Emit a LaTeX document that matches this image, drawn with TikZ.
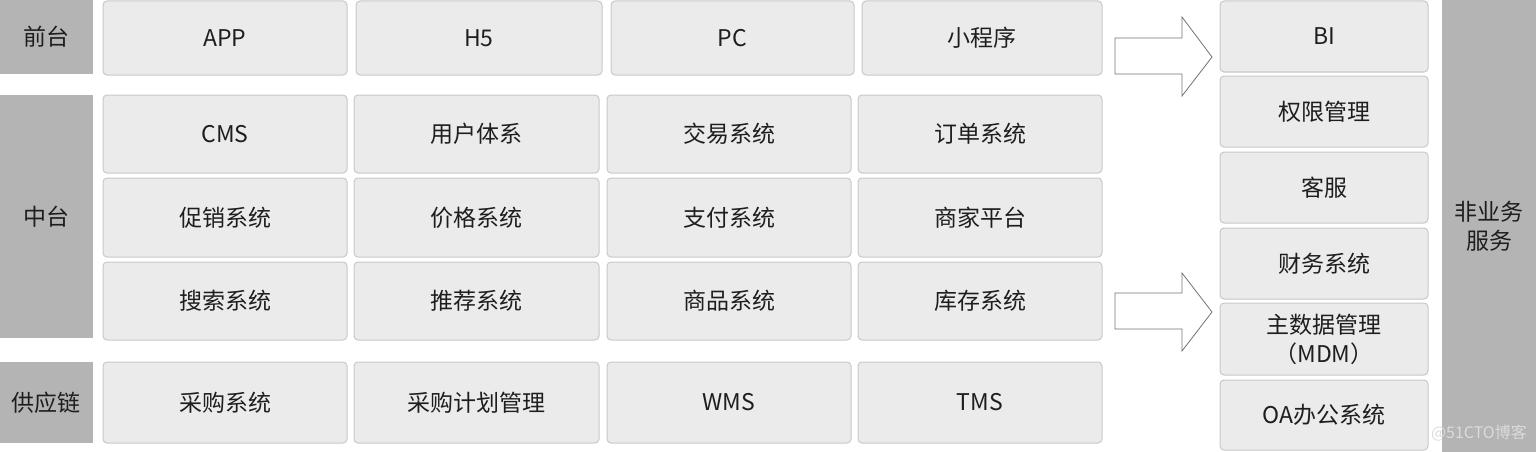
\documentclass[tikz,border=0pt]{standalone}
\usepackage{fontspec}
\setmainfont{Noto Sans CJK SC}
\definecolor{boxfill}{HTML}{EBEBEB}
\definecolor{boxline}{HTML}{C8C8C8}
\definecolor{labfill}{HTML}{B4B4B4}
\definecolor{txt}{HTML}{1E1E1E}
\begin{document}
\begin{tikzpicture}[x=1pt,y=-1pt,
  box/.style={draw=boxline, fill=boxfill, line width=1pt, rounded corners=4pt, inner sep=0pt,
    text=txt, font=\fontsize{23}{29}\selectfont, align=center},
  lab/.style={fill=labfill, inner sep=0pt, text=txt, font=\fontsize{23}{29}\selectfont, align=center},
  barrow/.style={draw=black!55, fill=white, line width=0.8pt}]
\useasboundingbox (0,0) rectangle (1536,452);
% left labels
\node[lab, minimum width=93pt, minimum height=74pt] (qt) at (46.5,37) {前台};
\node[lab, minimum width=93pt, minimum height=243pt] (zt) at (46.5,216.5) {中台};
\node[lab, minimum width=93pt, minimum height=81pt] (gyl) at (46.5,402.5) {供应链};
% top row
\node[box, minimum width=244pt, minimum height=74pt] (app) at (225,38) {APP};
\node[box, minimum width=246pt, minimum height=74pt] (h5) at (479,38) {H5};
\node[box, minimum width=243pt, minimum height=74pt] (pc) at (732.5,38) {PC};
\node[box, minimum width=240pt, minimum height=74pt] (mini) at (982,38) {小程序};
% middle rows
\node[box, minimum width=244pt, minimum height=78pt] (cms) at (225,134) {CMS};
\node[box, minimum width=245pt, minimum height=78pt] (yhtx) at (476.5,134) {用户体系};
\node[box, minimum width=244pt, minimum height=78pt] (jyxt) at (729,134) {交易系统};
\node[box, minimum width=244pt, minimum height=78pt] (ddxt) at (980,134) {订单系统};
\node[box, minimum width=244pt, minimum height=79pt] (cxxt) at (225,217.5) {促销系统};
\node[box, minimum width=245pt, minimum height=79pt] (jgxt) at (476.5,217.5) {价格系统};
\node[box, minimum width=244pt, minimum height=79pt] (zfxt) at (729,217.5) {支付系统};
\node[box, minimum width=244pt, minimum height=79pt] (sjpt) at (980,217.5) {商家平台};
\node[box, minimum width=244pt, minimum height=78pt] (ssxt) at (225,301) {搜索系统};
\node[box, minimum width=245pt, minimum height=78pt] (tjxt) at (476.5,301) {推荐系统};
\node[box, minimum width=244pt, minimum height=78pt] (spxt) at (729,301) {商品系统};
\node[box, minimum width=244pt, minimum height=78pt] (kcxt) at (980,301) {库存系统};
% supply chain row
\node[box, minimum width=244pt, minimum height=81pt] (cgxt) at (225,402.5) {采购系统};
\node[box, minimum width=245pt, minimum height=81pt] (cgjh) at (476.5,402.5) {采购计划管理};
\node[box, minimum width=244pt, minimum height=81pt] (wms) at (729,402.5) {WMS};
\node[box, minimum width=244pt, minimum height=81pt] (tms) at (980,402.5) {TMS};
% right column
\node[box, minimum width=208pt, minimum height=71pt] (bi) at (1324,36.5) {BI};
\node[box, minimum width=208pt, minimum height=71pt] (qxgl) at (1324,111.5) {权限管理};
\node[box, minimum width=208pt, minimum height=71pt] (kf) at (1324,187.5) {客服};
\node[box, minimum width=208pt, minimum height=71pt] (cwxt) at (1324,263.5) {财务系统};
\node[box, minimum width=208pt, minimum height=72pt] (mdm) at (1324,339) {主数据管理\\（MDM）};
\node[box, minimum width=208pt, minimum height=70pt] (oa) at (1324,415) {OA办公系统};
\node[lab, minimum width=94pt, minimum height=452pt] (fyw) at (1489,226) {非业务\\服务};
% block arrows
\draw[barrow] (1115,38) -- (1182,38) -- (1182,17) -- (1212,57) -- (1182,96) -- (1182,74) -- (1115,74) -- cycle;
\draw[barrow] (1115,293) -- (1182,293) -- (1182,273) -- (1212,312) -- (1182,351) -- (1182,329) -- (1115,329) -- cycle;
% watermark
\node[text=white!72!gray, font=\fontsize{16}{18}\selectfont, anchor=east, inner sep=0pt] (wm) at (1527,433) {@51CTO博客};
\end{tikzpicture}
\end{document}
